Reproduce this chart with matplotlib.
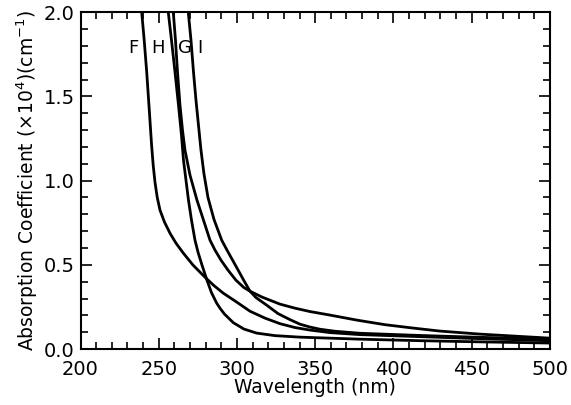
import matplotlib
matplotlib.use("Agg")
import matplotlib.pyplot as plt
from matplotlib.ticker import MultipleLocator

# Curves (wavelength in nm, absorption x1e4 cm^-1)
wl_F = [239.11, 240.70, 242.30, 243.96, 245.43, 246.45, 247.60, 249.01, 250.80,
        253.67, 257.19, 261.02, 265.69, 271.88, 279.55, 285.30, 291.25, 299.36,
        308.31, 317.89, 327.48, 337.06, 346.65, 359.42, 378.59, 416.93, 455.27, 500]
abs_F = [2.0, 1.834, 1.646, 1.418, 1.211, 1.092, 0.991, 0.902, 0.825,
         0.754, 0.688, 0.629, 0.570, 0.499, 0.427, 0.377, 0.332, 0.282,
         0.225, 0.184, 0.151, 0.128, 0.113, 0.098, 0.086, 0.074, 0.062, 0.050]

wl_H = [256.10, 258.15, 260.38, 262.62, 264.54, 265.81, 267.41, 269.01, 270.93,
        273.16, 275.08, 277.64, 280.83, 283.71, 287.03, 289.14, 292.01, 297.64,
        304.47, 312.59, 324.28, 340.26, 378.59, 416.93, 455.27, 500]
abs_H = [2.0, 1.834, 1.646, 1.448, 1.270, 1.122, 1.003, 0.884, 0.766,
         0.647, 0.576, 0.499, 0.409, 0.335, 0.273, 0.243, 0.208, 0.157,
         0.119, 0.095, 0.080, 0.071, 0.059, 0.050, 0.043, 0.036]

wl_G = [259.30, 260.70, 261.98, 263.58, 265.18, 266.77, 269.97, 274.44, 278.59,
        282.75, 285.94, 289.78, 294.25, 299.36, 304.47, 308.31, 315.97, 327.48,
        337.06, 346.65, 359.42, 376.68, 394.57, 412.46, 429.71, 455.27, 500]
abs_G = [2.0, 1.834, 1.646, 1.448, 1.300, 1.181, 1.033, 0.884, 0.766,
         0.647, 0.588, 0.528, 0.469, 0.409, 0.365, 0.344, 0.309, 0.267,
         0.243, 0.223, 0.202, 0.172, 0.145, 0.125, 0.107, 0.089, 0.065]

wl_I = [268.88, 270.61, 272.20, 273.80, 275.40, 277.00, 278.91, 281.47, 285.30,
        290.22, 293.61, 297.20, 300.80, 304.47, 308.31, 312.14, 318.98, 326.20,
        333.87, 340.26, 346.65, 353.04, 362.62, 378.59, 416.93, 455.27, 500]
abs_I = [2.0, 1.834, 1.646, 1.478, 1.329, 1.181, 1.040, 0.900, 0.770,
         0.647, 0.588, 0.528, 0.468, 0.406, 0.344, 0.306, 0.261, 0.211,
         0.175, 0.148, 0.131, 0.118, 0.106, 0.094, 0.081, 0.070, 0.059]

labels = ["F", "H", "G", "I"]
label_x = [233.5, 249.5, 266.5, 276]
label_y = 1.79

fig = plt.figure(figsize=(5.71, 4.05), dpi=100)
ax = fig.add_axes([0.141, 0.138, 0.822, 0.832])

for wl, ab in [(wl_F, abs_F), (wl_H, abs_H), (wl_G, abs_G), (wl_I, abs_I)]:
    ax.plot(wl, ab, color="black", linewidth=2.0,
            solid_joinstyle="round", solid_capstyle="butt")

for lab, lx in zip(labels, label_x):
    ax.text(lx, label_y, lab, fontsize=13, ha="center", va="center")

ax.set_xlim(200, 500)
ax.set_ylim(0, 2.0)
ax.xaxis.set_major_locator(MultipleLocator(50))
ax.xaxis.set_minor_locator(MultipleLocator(10))
ax.yaxis.set_major_locator(MultipleLocator(0.5))
ax.yaxis.set_minor_locator(MultipleLocator(0.1))
ax.yaxis.set_major_formatter(lambda v, _: f"{v:.1f}")
ax.tick_params(which="both", direction="in", top=True, right=True, width=1.2)
ax.tick_params(which="major", length=8, labelsize=14)
ax.tick_params(axis="x", which="major", pad=8)
ax.tick_params(axis="y", which="major", pad=4)
ax.tick_params(which="minor", length=5)
for sp in ax.spines.values():
    sp.set_linewidth(1.5)

ax.set_xlabel("Wavelength (nm)", fontsize=13.5, labelpad=-1)
ax.set_ylabel("Absorption Coefficient (×10$^4$)(cm$^{-1}$)", fontsize=13.5, labelpad=3)

fig.savefig("out.png", dpi=100)
